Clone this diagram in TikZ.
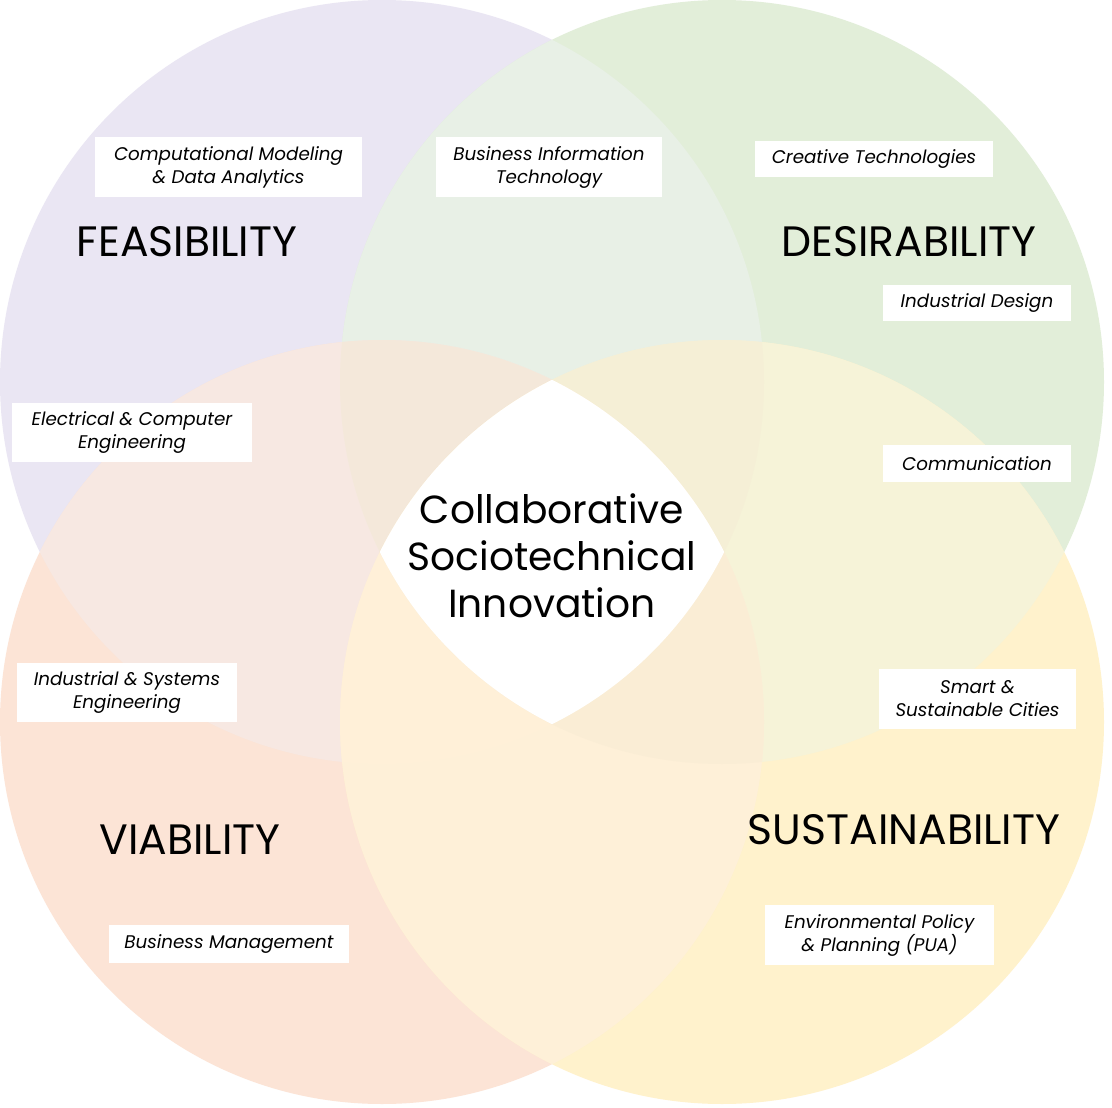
\documentclass[tikz,border=0pt]{standalone}
\usepackage{fontspec}
\setmainfont{Poppins}
\definecolor{cP}{HTML}{EAE6F3}
\definecolor{cG}{HTML}{E2EED9}
\definecolor{cO}{HTML}{FCE4D6}
\definecolor{cY}{HTML}{FFF2CC}
\definecolor{cPG}{HTML}{E8F0E6}
\definecolor{cPO}{HTML}{F7E8E2}
\definecolor{cGY}{HTML}{F6F3D8}
\definecolor{cOY}{HTML}{FEF0D8}
\definecolor{cPGO}{HTML}{F4E8DA}
\definecolor{cPGY}{HTML}{F5EFD6}
\definecolor{cPOY}{HTML}{FFF0D8}
\definecolor{cGOY}{HTML}{FAEDD5}
\tikzset{
  lbl/.style={fill=white, inner sep=0pt, align=center, text=black,
    font=\itshape\fontsize{18.3}{23}\selectfont},
  big/.style={inner sep=0pt, text=black, font=\fontsize{42.5}{48}\selectfont},
  ctr/.style={inner sep=0pt, align=center, text=black, font=\fontsize{39.2}{47}\selectfont},
}
\begin{document}
\begin{tikzpicture}[x=1pt,y=-1pt]
\useasboundingbox (0,0) rectangle (1112,1108);
\fill[white] (0,0) rectangle (1112,1108);
\def\R{382pt}
\coordinate (P) at (382,382);
\coordinate (G) at (722,382);
\coordinate (O) at (382,722);
\coordinate (Y) at (722,722);
% single circles
\fill[cP] (P) circle[radius=\R];
\fill[cG] (G) circle[radius=\R];
\fill[cO] (O) circle[radius=\R];
\fill[cY] (Y) circle[radius=\R];
% pairs
\begin{scope}\clip (P) circle[radius=\R]; \fill[cPG] (G) circle[radius=\R];\end{scope}
\begin{scope}\clip (P) circle[radius=\R]; \fill[cPO] (O) circle[radius=\R];\end{scope}
\begin{scope}\clip (G) circle[radius=\R]; \fill[cGY] (Y) circle[radius=\R];\end{scope}
\begin{scope}\clip (O) circle[radius=\R]; \fill[cOY] (Y) circle[radius=\R];\end{scope}
% triples
\begin{scope}\clip (P) circle[radius=\R]; \clip (G) circle[radius=\R]; \fill[cPGO] (O) circle[radius=\R];\end{scope}
\begin{scope}\clip (P) circle[radius=\R]; \clip (G) circle[radius=\R]; \fill[cPGY] (Y) circle[radius=\R];\end{scope}
\begin{scope}\clip (P) circle[radius=\R]; \clip (O) circle[radius=\R]; \fill[cPOY] (Y) circle[radius=\R];\end{scope}
\begin{scope}\clip (G) circle[radius=\R]; \clip (O) circle[radius=\R]; \fill[cGOY] (Y) circle[radius=\R];\end{scope}
% all four
\begin{scope}\clip (P) circle[radius=\R]; \clip (G) circle[radius=\R]; \clip (O) circle[radius=\R]; \fill[white] (Y) circle[radius=\R];\end{scope}

% big labels
\node[big] (feas) at (187,242) {FEASIBILITY};
\node[big] (desi) at (909,242) {DESIRABILITY};
\node[big] (viab) at (190,840) {VIABILITY};
\node[big] (sust) at (904,830) {SUSTAINABILITY};
\node[ctr] (center) at (552,556) {Collaborative\\Sociotechnical\\Innovation};

% program labels
\node[lbl, minimum width=267pt, minimum height=60pt] (cmda) at (228.5,167) {Computational Modeling\\\& Data Analytics};
\node[lbl, minimum width=226pt, minimum height=60pt] (bit) at (549,167) {Business Information\\Technology};
\node[lbl, minimum width=238pt, minimum height=36pt] (ct) at (874,159) {Creative Technologies};
\node[lbl, minimum width=188pt, minimum height=36pt] (id) at (977,303) {Industrial Design};
\node[lbl, minimum width=240pt, minimum height=59pt] (ece) at (132,432.5) {Electrical \& Computer\\Engineering};
\node[lbl, minimum width=188pt, minimum height=37pt] (comm) at (977,463.5) {Communication};
\node[lbl, minimum width=220pt, minimum height=59pt] (ise) at (127,692.5) {Industrial \& Systems\\Engineering};
\node[lbl, minimum width=197pt, minimum height=60pt] (ssc) at (977.5,699) {Smart \&\\Sustainable Cities};
\node[lbl, minimum width=240pt, minimum height=38pt] (bm) at (229,944) {Business Management};
\node[lbl, minimum width=229pt, minimum height=60pt] (epp) at (879.5,935) {Environmental Policy\\\& Planning (PUA)};
\end{tikzpicture}
\end{document}
